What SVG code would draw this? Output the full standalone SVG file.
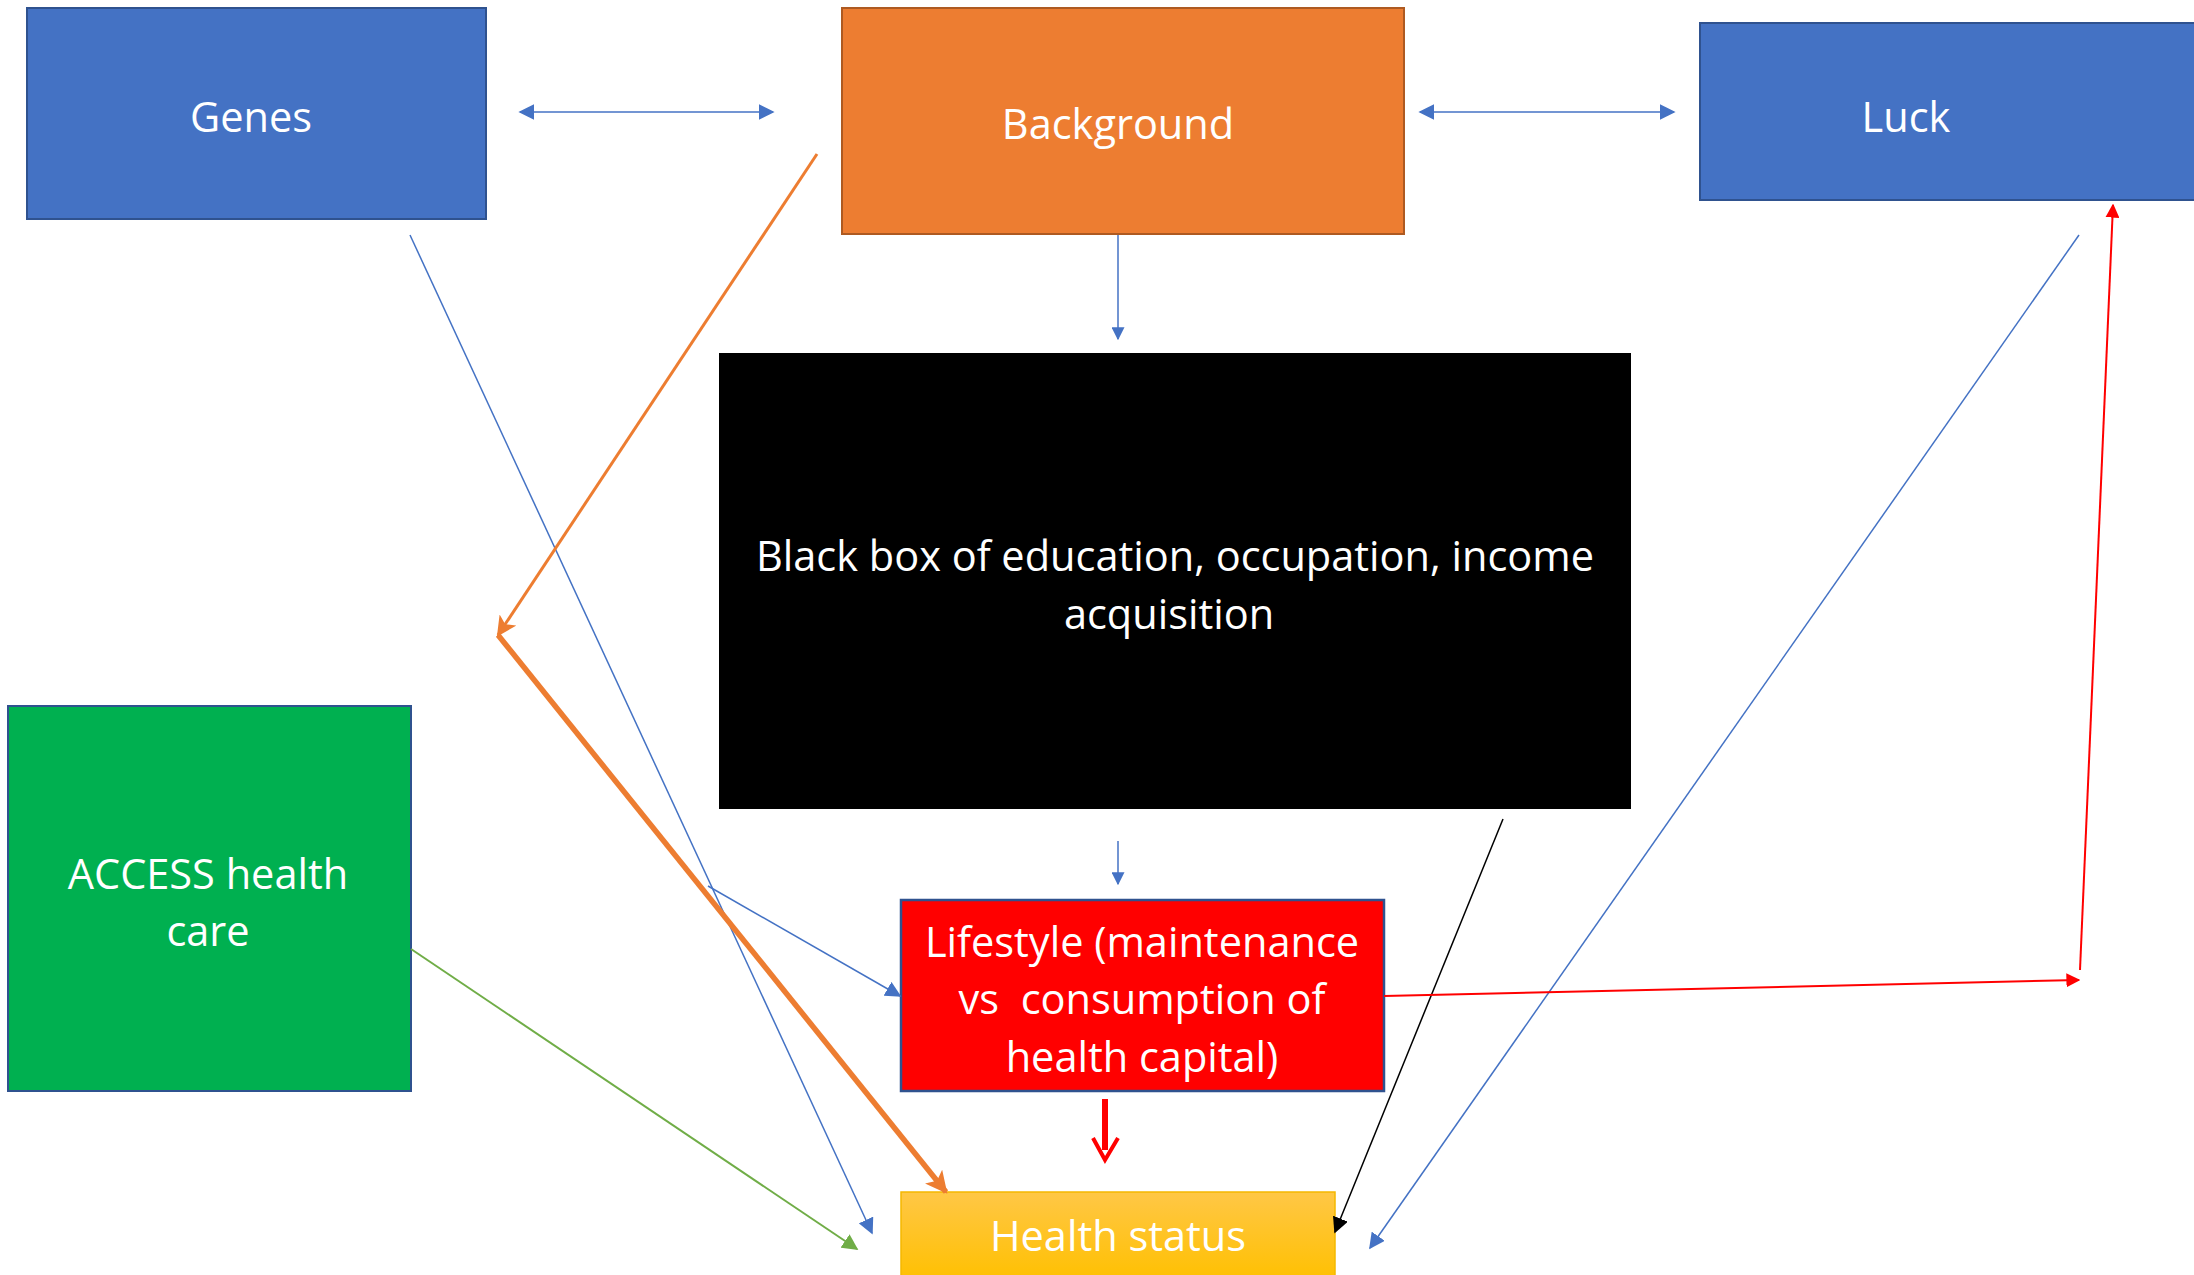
<svg xmlns="http://www.w3.org/2000/svg" width="2194" height="1275" viewBox="0 0 2194 1275">
<style>
.t{font-family:"Open Sans","Liberation Sans",sans-serif;font-size:41.5px;fill:#fff;text-anchor:middle}
.bl{stroke:#4472C4;stroke-width:1.5;fill:none}
</style>
<defs>
<linearGradient id="hg" x1="0" y1="0" x2="0" y2="1"><stop offset="0" stop-color="#FFC746"/><stop offset="1" stop-color="#FFC000"/></linearGradient>
<marker id="ab" viewBox="0 0 10 10" refX="9" refY="5" markerWidth="13" markerHeight="13" markerUnits="userSpaceOnUse" orient="auto-start-reverse"><path d="M0,0 L10,5 L0,10 z" fill="#4472C4"/></marker>
<marker id="ab2" viewBox="0 0 10 10" refX="9" refY="5" markerWidth="16" markerHeight="16" markerUnits="userSpaceOnUse" orient="auto-start-reverse"><path d="M0,0 L10,5 L0,10 z" fill="#4472C4"/></marker>
<marker id="ao" viewBox="0 0 10 10" refX="9" refY="5" markerWidth="20" markerHeight="20" markerUnits="userSpaceOnUse" orient="auto"><path d="M0,0 L10,5 L0,10 L2.5,5 z" fill="#ED7D31"/></marker>
<marker id="ao2" viewBox="0 0 10 10" refX="9" refY="5" markerWidth="22" markerHeight="22" markerUnits="userSpaceOnUse" orient="auto"><path d="M0,0 L10,5 L0,10 L2.5,5 z" fill="#ED7D31"/></marker>
<marker id="ag" viewBox="0 0 10 10" refX="9" refY="5" markerWidth="16" markerHeight="16" markerUnits="userSpaceOnUse" orient="auto"><path d="M0,0 L10,5 L0,10 z" fill="#70AD47"/></marker>
<marker id="ak" viewBox="0 0 10 10" refX="9" refY="5" markerWidth="16" markerHeight="16" markerUnits="userSpaceOnUse" orient="auto"><path d="M0,0 L10,5 L0,10 z" fill="#000"/></marker>
<marker id="ar" viewBox="0 0 10 10" refX="9" refY="5" markerWidth="14" markerHeight="14" markerUnits="userSpaceOnUse" orient="auto"><path d="M0,0 L10,5 L0,10 z" fill="#FF0000"/></marker>
</defs>
<rect width="2194" height="1275" fill="#fff"/>

<g id="genes">
<rect x="27" y="8" width="459" height="211" fill="#4472C4" stroke="#2F528F" stroke-width="2"/>
<text class="t" x="251" y="132">Genes</text>
</g>
<g id="background">
<rect x="842" y="8" width="562" height="226" fill="#ED7D31" stroke="#AE5A21" stroke-width="2"/>
<text class="t" x="1118" y="139">Background</text>
</g>
<g id="luck">
<rect x="1700" y="23" width="500" height="177" fill="#4472C4" stroke="#2F528F" stroke-width="2"/>
<text class="t" x="1906" y="132">Luck</text>
</g>
<g id="blackbox">
<rect x="719" y="353" width="912" height="456" fill="#000"/>
<text class="t" x="1175" y="571">Black box of education, occupation, income</text>
<text class="t" x="1169" y="629">acquisition</text>
</g>
<g id="access">
<rect x="8" y="706" width="403" height="385" fill="#00B050" stroke="#2F528F" stroke-width="2"/>
<text class="t" x="208" y="889">ACCESS health</text>
<text class="t" x="208" y="946">care</text>
</g>
<g id="lifestyle">
<rect x="901" y="900" width="483" height="191" fill="#FF0000" stroke="#2F528F" stroke-width="2.5"/>
<text class="t" x="1142" y="957">Lifestyle (maintenance</text>
<text class="t" x="1142" y="1014" xml:space="preserve">vs  consumption of</text>
<text class="t" x="1142" y="1072">health capital)</text>
</g>
<g id="health">
<rect x="901" y="1192" width="434" height="90" fill="url(#hg)" stroke="#F5B800" stroke-width="1.5"/>
<text class="t" x="1118" y="1251">Health status</text>
</g>

<g id="connectors">
<line class="bl" x1="520" y1="112" x2="773" y2="112" stroke-width="2.5" marker-start="url(#ab2)" marker-end="url(#ab2)"/>
<line class="bl" x1="1420" y1="112" x2="1674" y2="112" stroke-width="2.5" marker-start="url(#ab2)" marker-end="url(#ab2)"/>
<line class="bl" x1="1118" y1="235" x2="1118" y2="339" marker-end="url(#ab)"/>
<line class="bl" x1="1118" y1="841" x2="1118" y2="884" marker-end="url(#ab)"/>
<line class="bl" x1="410" y1="235" x2="872" y2="1233" marker-end="url(#ab2)"/>
<line class="bl" x1="708" y1="886" x2="900" y2="996" marker-end="url(#ab2)"/>
<line class="bl" x1="2079" y1="235" x2="1370" y2="1248" marker-end="url(#ab2)"/>
<line x1="817" y1="154" x2="498" y2="635" stroke="#ED7D31" stroke-width="3" marker-end="url(#ao)"/>
<line x1="498" y1="635" x2="946" y2="1192" stroke="#ED7D31" stroke-width="5.5" marker-end="url(#ao2)"/>
<line x1="411" y1="949" x2="857" y2="1249" stroke="#70AD47" stroke-width="2" marker-end="url(#ag)"/>
<line x1="1503" y1="819" x2="1335" y2="1232" stroke="#000" stroke-width="1.5" marker-end="url(#ak)"/>
<line x1="1384" y1="996" x2="2079" y2="980" stroke="#FF0000" stroke-width="2" marker-end="url(#ar)"/>
<line x1="2080" y1="970" x2="2113" y2="205" stroke="#FF0000" stroke-width="2" marker-end="url(#ar)"/>
<line x1="1105" y1="1099" x2="1105" y2="1150" stroke="#FF0000" stroke-width="6"/>
<polyline points="1093,1138 1105,1160 1118,1138" fill="none" stroke="#FF0000" stroke-width="4"/>
</g>
</svg>
